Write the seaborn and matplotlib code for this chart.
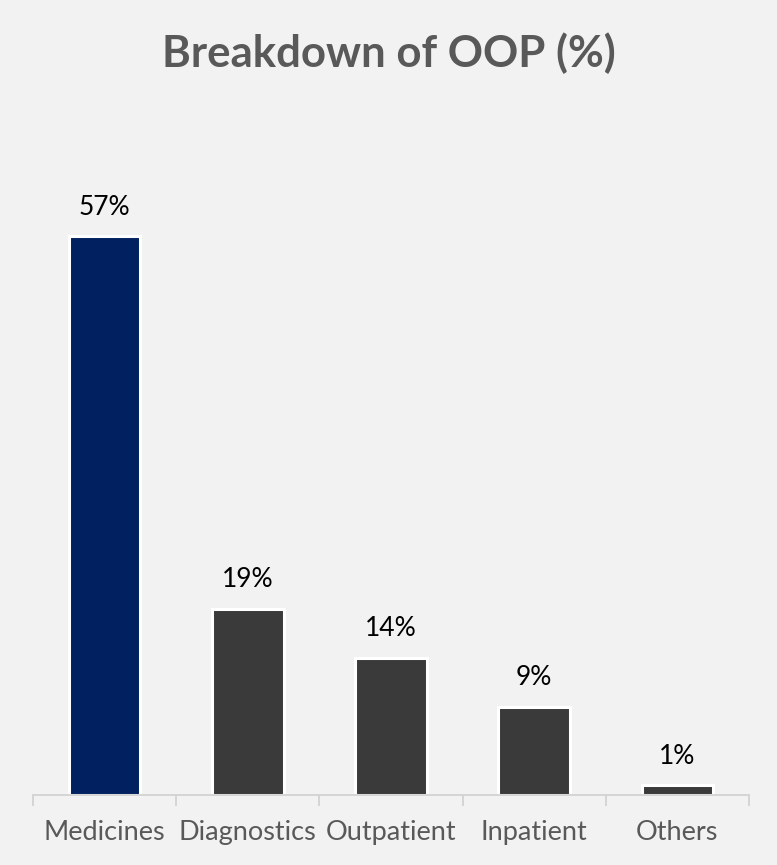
import matplotlib
matplotlib.use("Agg")
import matplotlib.pyplot as plt
import seaborn as sns
import pandas as pd
import numpy as np

categories = ["Medicines", "Diagnostics", "Outpatient", "Inpatient", "Others"]
shares = [57, 19, 14, 9, 1]
bar_colors = ["#002060", "#3A3A3A", "#3A3A3A", "#3A3A3A", "#3A3A3A"]

sns.set_theme(style="white")
plt.rcParams["font.family"] = ["Lato", "DejaVu Sans"]

bg = "#F2F2F2"
df = pd.DataFrame({"category": categories, "share": shares})

W, H = 777, 865
fig = plt.figure(figsize=(W / 100, H / 100), dpi=100, facecolor=bg)
ax = fig.add_axes([33 / W, (H - 795) / H, 716 / W, (795 - 148) / H])
ax.set_facecolor(bg)

sns.barplot(data=df, x="category", y="share", hue="category", palette=bar_colors,
            order=categories, legend=False, width=0.5, ax=ax,
            edgecolor="white", linewidth=2.2, saturation=1)

for cont in ax.containers:
    ax.bar_label(cont, labels=[f"{v:.0f}%" for v in cont.datavalues],
                 padding=12, fontsize=19, color="black")

ax.set_xlim(-0.5, len(categories) - 0.5)
ax.set_ylim(0, 66)
ax.set_xlabel("")
ax.set_ylabel("")
ax.set_yticks([])
for s in ["top", "right", "left"]:
    ax.spines[s].set_visible(False)
ax.spines["bottom"].set_color("#D0D0D0")
ax.spines["bottom"].set_linewidth(1.2)

ax.set_xticks(np.arange(-0.5, len(categories)), minor=True)
ax.tick_params(axis="x", which="minor", bottom=True, length=8, width=1.2,
               color="#D0D0D0", direction="out")
ax.tick_params(axis="x", which="major", length=0, pad=18, labelsize=19.5,
               labelcolor="#595959")

fig.text(0.5, 1 - 53 / H, "Breakdown of OOP (%)", ha="center", va="center",
         fontsize=31.5, fontweight="bold", color="#595959")

fig.savefig("out.png", dpi=100, facecolor=bg)
